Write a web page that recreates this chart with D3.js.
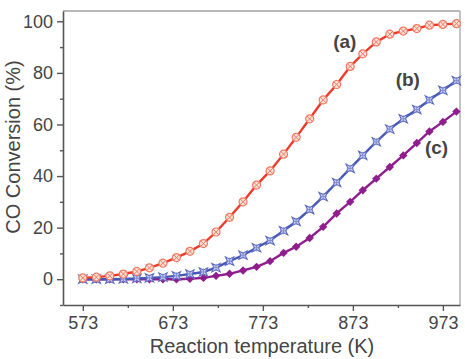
<!DOCTYPE html>
<html>
<head>
    <script src="https://cdnjs.cloudflare.com/ajax/libs/d3/7.8.5/d3.min.js"></script>
    <style>
        body { margin: 0; background: #fff; }
        text { font-family: "Liberation Sans", Arial, sans-serif; fill: #444; }
        .tick-label { font-size: 18px; }
        .axis-title { font-size: 20px; }
        .curve-label { font-size: 19px; font-weight: bold; }
    </style>
</head>
<body>
    <div id="chart"></div>
    <script>
        const width = 465, height = 359;

        // reaction temperature (K)
        const temps = [573, 588, 603, 618, 633, 647, 662, 677, 692, 707, 721, 736, 751, 766, 781,
                       796, 810, 825, 840, 855, 870, 884, 899, 914, 929, 944, 958, 973, 988];
        // CO conversion (%)
        const seriesA = [0.5, 0.8, 1.3, 2.0, 3.0, 4.4, 6.2, 8.4, 10.8, 13.8, 18.3, 24, 30, 36.5, 42,
                         48.5, 55, 62.2, 69.5, 75.5, 82.5, 87.4, 92, 95, 96.2, 97.2, 98.5, 98.8, 99.1];
        const seriesB = [0, 0, 0, 0.1, 0.3, 0.5, 0.8, 1.3, 2, 2.8, 4.5, 7, 9.3, 12.2, 15,
                         18.8, 22.4, 27, 32, 37.5, 43, 48, 53.3, 58.2, 62.2, 65.8, 69.5, 73.2, 77];
        const seriesC = [0, 0, 0, 0, 0, 0, 0, 0, 0.2, 0.5, 1.3, 2.1, 3.4, 4.8, 7,
                         10.2, 12.6, 16, 20.3, 25.5, 30, 34.5, 39, 43.5, 48, 52.8, 57.3, 61, 65];
        const xTicks = [573, 673, 773, 873, 973];
        const xMinor = [623, 723, 823, 923];
        const yTicks = [0, 20, 40, 60, 80, 100];
        const yMinor = [-10, 10, 30, 50, 70, 90];
        const labels = [
            { text: "(a)", t: 864, v: 89.6 },
            { text: "(b)", t: 934, v: 75 },
            { text: "(c)", t: 966, v: 48.6 }
        ];

        const margin = { left: 63, top: 11, right: 5, bottom: 54 };
        const x = d3.scaleLinear().domain([551, 992]).range([margin.left, width - margin.right]);
        const y = d3.scaleLinear().domain([-10, 104]).range([height - margin.bottom, margin.top]);

        const svg = d3.select("#chart").append("svg").attr("width", width).attr("height", height);

        // frame: top and right lighter
        svg.append("line").attr("x1", x.range()[0]).attr("x2", x.range()[1])
            .attr("y1", y.range()[1]).attr("y2", y.range()[1])
            .attr("stroke", "#a0a0a0").attr("stroke-width", 1.5);
        svg.append("line").attr("x1", x.range()[1]).attr("x2", x.range()[1])
            .attr("y1", y.range()[0]).attr("y2", y.range()[1])
            .attr("stroke", "#b0b0b0").attr("stroke-width", 1.5);

        svg.append("g").attr("transform", `translate(0,${y.range()[0]})`)
            .call(d3.axisBottom(x).tickValues(xTicks).tickSize(6).tickSizeOuter(0).tickPadding(5));
        svg.append("g").attr("transform", `translate(0,${y.range()[0]})`)
            .call(d3.axisBottom(x).tickValues(xMinor).tickSize(3).tickFormat("").tickSizeOuter(0))
            .select(".domain").remove();
        svg.append("g").attr("transform", `translate(${x.range()[0]},0)`)
            .call(d3.axisLeft(y).tickValues(yTicks).tickSize(6).tickSizeOuter(0).tickPadding(4));
        svg.append("g").attr("transform", `translate(${x.range()[0]},0)`)
            .call(d3.axisLeft(y).tickValues(yMinor).tickSize(3).tickFormat("").tickSizeOuter(0))
            .select(".domain").remove();

        svg.selectAll(".domain").attr("stroke", "#555").attr("stroke-width", 1.6);
        svg.selectAll(".tick line").attr("stroke", "#555").attr("stroke-width", 1.4);
        svg.selectAll(".tick text").attr("class", "tick-label").attr("font-size", null).attr("font-family", null).attr("fill", "#444");

        svg.append("text").attr("class", "axis-title")
            .attr("x", 262).attr("y", 353).attr("text-anchor", "middle")
            .text("Reaction temperature (K)");
        svg.append("text").attr("class", "axis-title")
            .attr("transform", "translate(20,147) rotate(-90)").attr("text-anchor", "middle")
            .text("CO Conversion (%)");

        const line = d3.line().x((d, i) => x(temps[i])).y(d => y(d));
        const plot = svg.append("g");

        function drawSeries(vals, color, markerFn) {
            plot.append("path").datum(vals).attr("d", line)
                .attr("fill", "none").attr("stroke", color).attr("stroke-width", 2.4);
            const g = plot.append("g").selectAll("g").data(vals).enter().append("g")
                .attr("transform", (d, i) => `translate(${x(temps[i])},${y(d)})`);
            markerFn(g);
        }

        // (c) purple filled diamonds
        drawSeries(seriesC, "#8f1d8d", g => {
            g.append("path").attr("d", "M0,-4.2L4.2,0L0,4.2L-4.2,0Z").attr("fill", "#8f1d8d");
        });
        // (b) blue hollow stars
        drawSeries(seriesB, "#4657b5", g => {
            g.append("path").attr("d", "M0,-6L1.5,-1.5L6,0L1.5,1.5L0,6L-1.5,1.5L-6,0L-1.5,-1.5Z")
                .attr("transform", "rotate(45)")
                .attr("fill", "#c8cdf0").attr("stroke", "#5a68c0").attr("stroke-width", 1);
            g.append("path").attr("d", "M-3.5,0L3.5,0M0,-3.5L0,3.5").attr("stroke", "#7a84cc").attr("stroke-width", 0.8);
        });
        // (a) red circled crosses
        drawSeries(seriesA, "#ee3a2a", g => {
            g.append("circle").attr("r", 4).attr("fill", "#fbe0d8").attr("stroke", "#f07a62").attr("stroke-width", 1.2);
            g.append("path").attr("d", "M-2.8,-2.8L2.8,2.8M-2.8,2.8L2.8,-2.8").attr("stroke", "#f07a62").attr("stroke-width", 1);
        });

        svg.selectAll(".curve-label").data(labels).enter().append("text")
            .attr("class", "curve-label")
            .attr("x", d => x(d.t)).attr("y", d => y(d.v))
            .attr("text-anchor", "middle")
            .text(d => d.text);
    </script>
</body>
</html>
